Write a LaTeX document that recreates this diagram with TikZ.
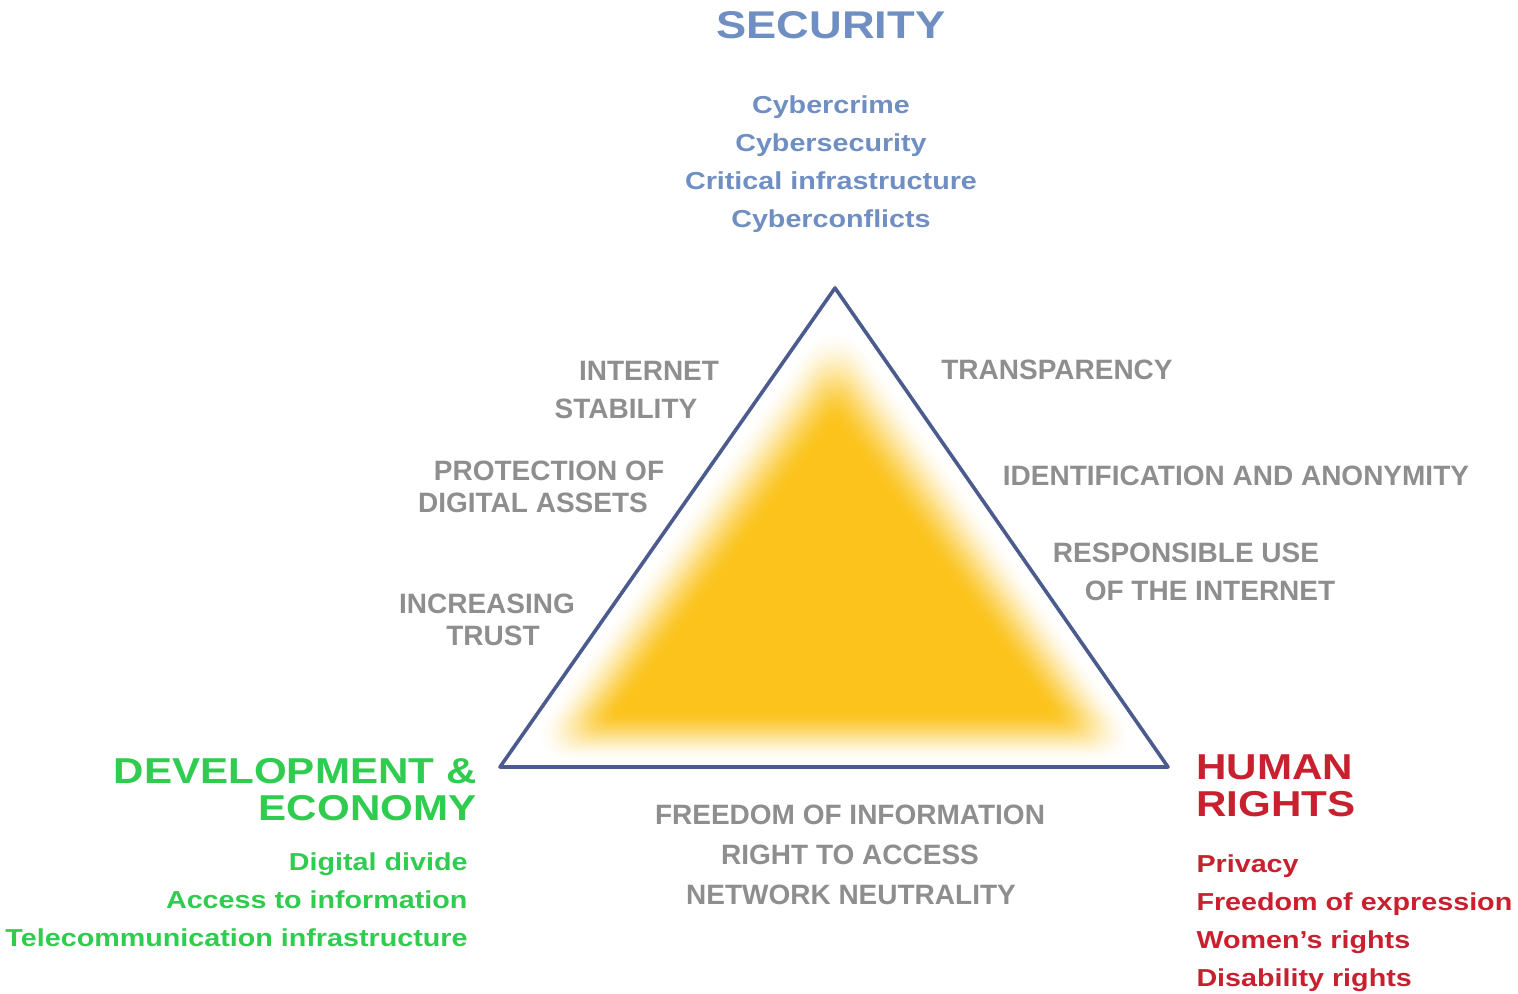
\documentclass[tikz,border=0pt]{standalone}
\usepackage{fontspec}
\setmainfont{Liberation Sans}
\newfontfamily\widesans[FakeStretch=1.17]{Liberation Sans}
\newfontfamily\labelsans{Liberation Sans}
\usetikzlibrary{calc}

\definecolor{secblue}{HTML}{6F8EC2}
\definecolor{devgreen}{HTML}{2FCC4F}
\definecolor{hrred}{HTML}{C8202E}
\definecolor{issuegray}{HTML}{8E8E8E}
\definecolor{edgeblue}{HTML}{4B5B8E}
\definecolor{coreyellow}{HTML}{FBC31B}

\tikzset{every picture/.style={line width=0.75pt}}
\tikzset{
  head/.style={inner sep=0pt, font=\widesans\bfseries\fontsize{27}{27}\selectfont},
  item/.style={inner sep=0pt, font=\widesans\bfseries\fontsize{18.4}{18.4}\selectfont},
  issue/.style={inner sep=0pt, anchor=base, text=issuegray, font=\labelsans\bfseries\fontsize{21}{21}\selectfont},
  edge/.style={draw=edgeblue, line width=2.7pt, line join=round}
}

\begin{document}
\begin{tikzpicture}[x=0.75pt,y=0.75pt,yscale=-1,xscale=1]
		\useasboundingbox (0,0) rectangle (1518,994);

		%Triangle corners
		\coordinate (apex) at (835,288);
		\coordinate (leftc) at (500,767);
		\coordinate (rightc) at (1168,767);

		%Blurred yellow core: outer edge of the glow and its solid part
		\coordinate (fo1) at (835,300);
		\coordinate (fo2) at (510,763);
		\coordinate (fo3) at (1158,763);
		\coordinate (fi1) at (835,425);
		\coordinate (fi2) at (624,710);
		\coordinate (fi3) at (1046,710);
		\foreach \k in {0,...,48}{
			\pgfmathsetmacro\t{\k/48}
			\pgfmathsetmacro\s{100*(3*\t*\t-2*\t*\t*\t)}
			\pgfmathsetmacro\r{4+(1-\t)*40}
			\fill[coreyellow!\s!white, rounded corners=\r pt] ($(fo1)!\t!(fi1)$) -- ($(fo2)!\t!(fi2)$) -- ($(fo3)!\t!(fi3)$) -- cycle;
		}

		%Triangle
		\draw[edge] (apex) -- (leftc) -- (rightc) -- cycle;

		% Security
		\node[head, text=secblue, anchor=base, font=\widesans\bfseries\fontsize{29}{29}\selectfont] (security) at (831,39) {SECURITY};
		\foreach \txt [count=\i] in {Cybercrime, Cybersecurity, Critical infrastructure, Cyberconflicts}
			\node[item, text=secblue, anchor=base] (sec\i) at (831,{76+38*\i}) {\txt};

		% Development & economy
		\node[head, text=devgreen, anchor=base east] (dev) at (477,783) {DEVELOPMENT \&};
		\node[head, text=devgreen, anchor=base east] (econ) at (477,820) {ECONOMY};
		\foreach \txt [count=\i] in {Digital divide, Access to information, Telecommunication infrastructure}
			\node[item, text=devgreen, anchor=base east] (dev\i) at (468,{832+38*\i}) {\txt};

		% Human rights
		\node[head, text=hrred, anchor=base west] (human) at (1196,779) {HUMAN};
		\node[head, text=hrred, anchor=base west] (rights) at (1196,816) {RIGHTS};
		\foreach \txt [count=\i] in {Privacy, Freedom of expression, Women’s rights, Disability rights}
			\node[item, text=hrred, anchor=base west] (hr\i) at (1196,{834+38*\i}) {\txt};

		% Left side issues
		\node[issue] (internet) at (649,381) {INTERNET};
		\node[issue] (stability) at (626,419) {STABILITY};
		\node[issue] (protection) at (549,481) {PROTECTION OF};
		\node[issue] (assets) at (533,513) {DIGITAL ASSETS};
		\node[issue] (increasing) at (487,614) {INCREASING};
		\node[issue] (trust) at (493,646) {TRUST};

		% Right side issues
		\node[issue] (transparency) at (1057,380) {TRANSPARENCY};
		\node[issue] (identification) at (1236,486) {IDENTIFICATION AND ANONYMITY};
		\node[issue] (responsible) at (1186,563) {RESPONSIBLE USE};
		\node[issue] (ofinternet) at (1210,601) {OF THE INTERNET};

		% Bottom issues
		\node[issue] (freedom) at (850,824) {FREEDOM OF INFORMATION};
		\node[issue] (access) at (850,864) {RIGHT TO ACCESS};
		\node[issue] (neutrality) at (851,904) {NETWORK NEUTRALITY};

\end{tikzpicture}
\end{document}
